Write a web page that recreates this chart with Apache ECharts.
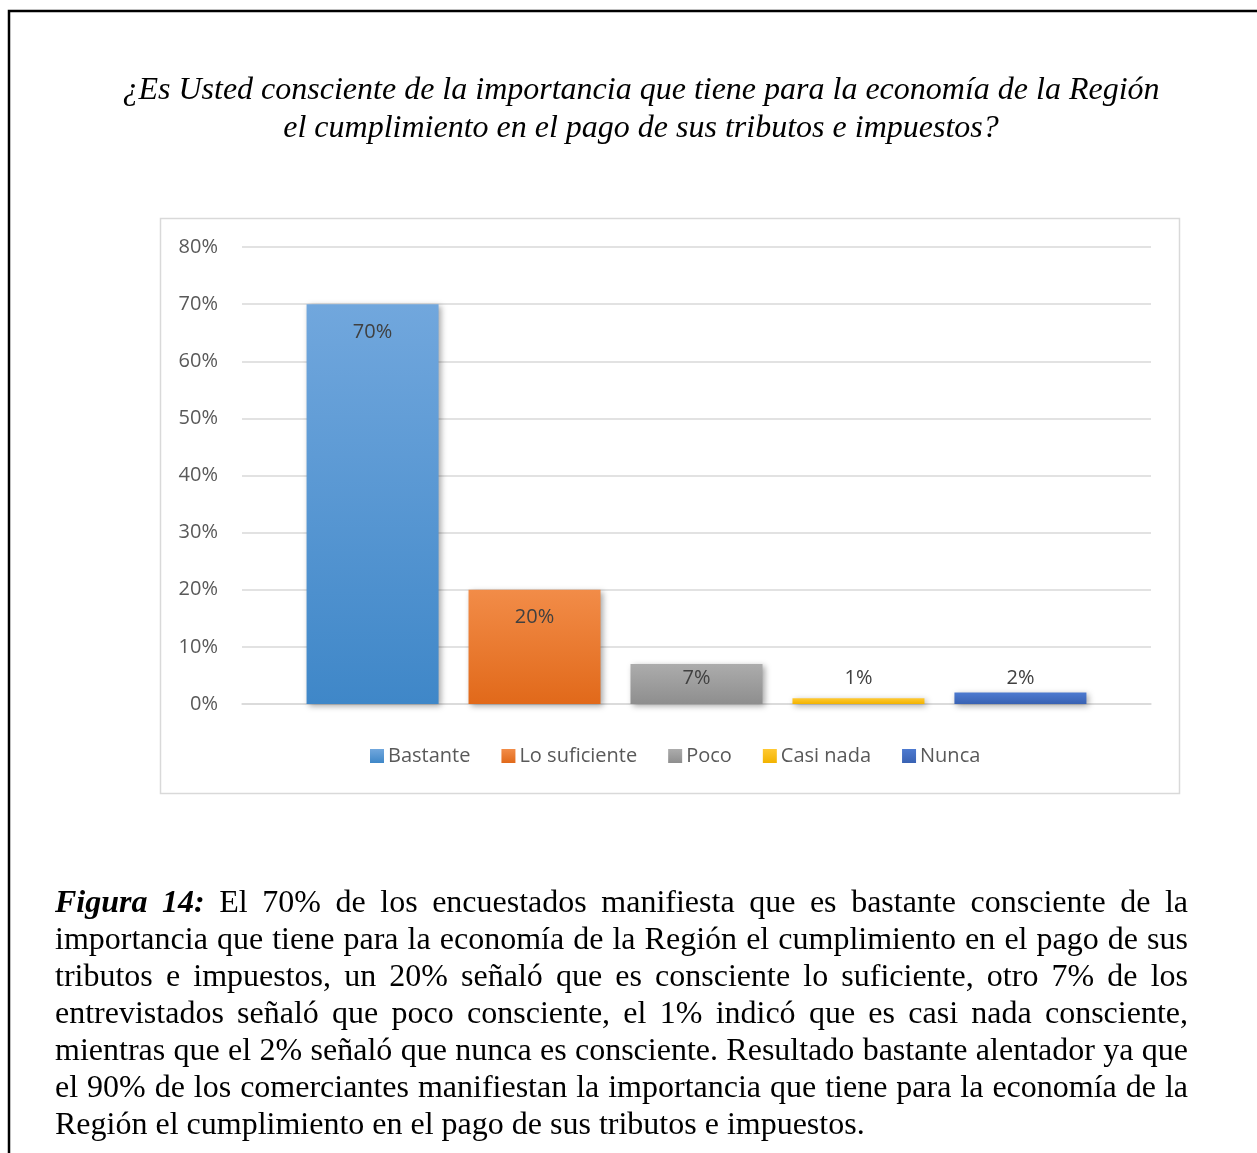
<!DOCTYPE html>
<html>
<head>
<meta charset="utf-8">
<script src="https://cdn.jsdelivr.net/npm/echarts@6/dist/echarts.min.js"></script>
<style>
  html, body { margin: 0; padding: 0; background: #fff; }
  #main { width: 1257px; height: 1153px; }
</style>
</head>
<body>
<div id="main"></div>
<script>
// data
const categories = ['Bastante', 'Lo suficiente', 'Poco', 'Casi nada', 'Nunca'];
const values = [70, 20, 7, 1, 2];
const yTicks = [0, 10, 20, 30, 40, 50, 60, 70, 80];

const titleLines = [
    '¿Es Usted consciente de la importancia que tiene para la economía de la Región',
    'el cumplimiento en el pago de sus tributos e impuestos?'
];
const captionLines = [
    'Figura 14: El 70% de los encuestados manifiesta que es bastante consciente de la',
    'importancia que tiene para la economía de la Región el cumplimiento en el pago de sus',
    'tributos e impuestos, un 20% señaló que es consciente lo suficiente, otro 7% de los',
    'entrevistados señaló que poco consciente, el 1% indicó que es casi nada consciente,',
    'mientras que el 2% señaló que nunca es consciente. Resultado bastante alentador ya que',
    'el 90% de los comerciantes manifiestan la importancia que tiene para la economía de la',
    'Región el cumplimiento en el pago de sus tributos e impuestos.'
];

const colors = [
    ['#71a7dd', '#3f87c8'],
    ['#f28c48', '#e1691a'],
    ['#acacac', '#8e8e8e'],
    ['#ffc932', '#f2b300'],
    ['#4d7ad0', '#3962b3']
];
// label placement like the Excel data labels
const labelPos = [
    { position: 'insideTop', distance: 18 },
    { position: 'insideTop', distance: 18 },
    { position: 'insideTop', distance: 4 },
    { position: 'top', distance: 10 },
    { position: 'top', distance: 4 }
];

const chartFont = '"Open Sans", "Noto Sans", sans-serif';
const serif = '"Liberation Serif", "DejaVu Serif", serif';

// justified caption, word by word
const measureCtx = document.createElement('canvas').getContext('2d');
function textWidth(txt, style, weight, size) {
    measureCtx.font = style + ' ' + weight + ' ' + size + 'px ' + serif;
    return measureCtx.measureText(txt).width;
}

function buildCaption() {
    const left = 55, right = 1188, top = 904, lineH = 37, size = 32;
    const items = [];
    captionLines.forEach((line, i) => {
        const words = line.split(' ');
        const styles = words.map((w, j) => (i === 0 && j < 2)
            ? { fontStyle: 'italic', fontWeight: 'bold' }
            : { fontStyle: 'normal', fontWeight: 'normal' });
        const widths = words.map((w, j) => textWidth(w, styles[j].fontStyle, styles[j].fontWeight, size));
        const total = widths.reduce((a, b) => a + b, 0);
        const last = i === captionLines.length - 1;
        const gap = last ? textWidth(' ', 'normal', 'normal', size) : (right - left - total) / (words.length - 1);
        let x = left;
        words.forEach((w, j) => {
            items.push({
                type: 'text',
                x: x,
                y: top + i * lineH,
                silent: true,
                style: {
                    text: w,
                    fontFamily: serif,
                    fontSize: size,
                    fontStyle: styles[j].fontStyle,
                    fontWeight: styles[j].fontWeight,
                    fill: '#000',
                    verticalAlign: 'middle'
                }
            });
            x += widths[j] + gap;
        });
    });
    return items;
}

const series = categories.map((name, i) => ({
    name: name,
    type: 'bar',
    barWidth: 132,
    barGap: '22.7%',
    data: [values[i]],
    itemStyle: {
        color: new echarts.graphic.LinearGradient(0, 0, 0, 1, [
            { offset: 0, color: colors[i][0] },
            { offset: 1, color: colors[i][1] }
        ]),
        shadowBlur: 6,
        shadowColor: 'rgba(0,0,0,0.35)',
        shadowOffsetX: 2,
        shadowOffsetY: 2
    },
    label: {
        show: true,
        position: labelPos[i].position,
        distance: labelPos[i].distance,
        formatter: '{c}%',
        color: '#404040',
        fontFamily: chartFont,
        fontSize: 20
    }
}));

const chart = echarts.init(document.getElementById('main'), null, { renderer: 'canvas' });
chart.setOption({
    backgroundColor: '#fff',
    animation: false,
    title: {
        text: titleLines.join('\n'),
        left: 636,
        textAlign: 'center',
        top: 67,
        textStyle: {
            fontFamily: serif,
            fontStyle: 'italic',
            fontWeight: 'normal',
            fontSize: 32,
            lineHeight: 38,
            color: '#000'
        }
    },
    legend: {
        data: categories,
        left: 365,
        top: 741,
        icon: 'rect',
        itemWidth: 14,
        itemHeight: 14,
        itemGap: 31,
        textStyle: { fontFamily: chartFont, fontSize: 20, color: '#595959', padding: [0, 0, 0, -1] }
    },
    grid: { left: 242, right: 106, top: 247, bottom: 449, containLabel: false },
    xAxis: {
        type: 'category',
        data: [''],
        axisTick: { show: false },
        axisLabel: { show: false },
        axisLine: { lineStyle: { color: '#d9d9d9', width: 1.5 } }
    },
    yAxis: {
        type: 'value',
        min: yTicks[0],
        max: yTicks[yTicks.length - 1],
        interval: 10,
        axisLine: { show: false },
        axisTick: { show: false },
        axisLabel: {
            formatter: '{value}%',
            margin: 24,
            color: '#595959',
            fontFamily: chartFont,
            fontSize: 20
        },
        splitLine: { lineStyle: { color: '#d9d9d9', width: 1.5 } }
    },
    graphic: [
        {
            type: 'rect',
            silent: true,
            shape: { x: 9, y: 11, width: 1400, height: 1400 },
            style: { fill: 'none', stroke: '#000', lineWidth: 2.5 }
        },
        {
            type: 'rect',
            silent: true,
            shape: { x: 160.5, y: 218.5, width: 1019, height: 575 },
            style: { fill: 'none', stroke: '#d9d9d9', lineWidth: 1.5 }
        }
    ].concat(buildCaption()),
    series: series
});
</script>
</body>
</html>
